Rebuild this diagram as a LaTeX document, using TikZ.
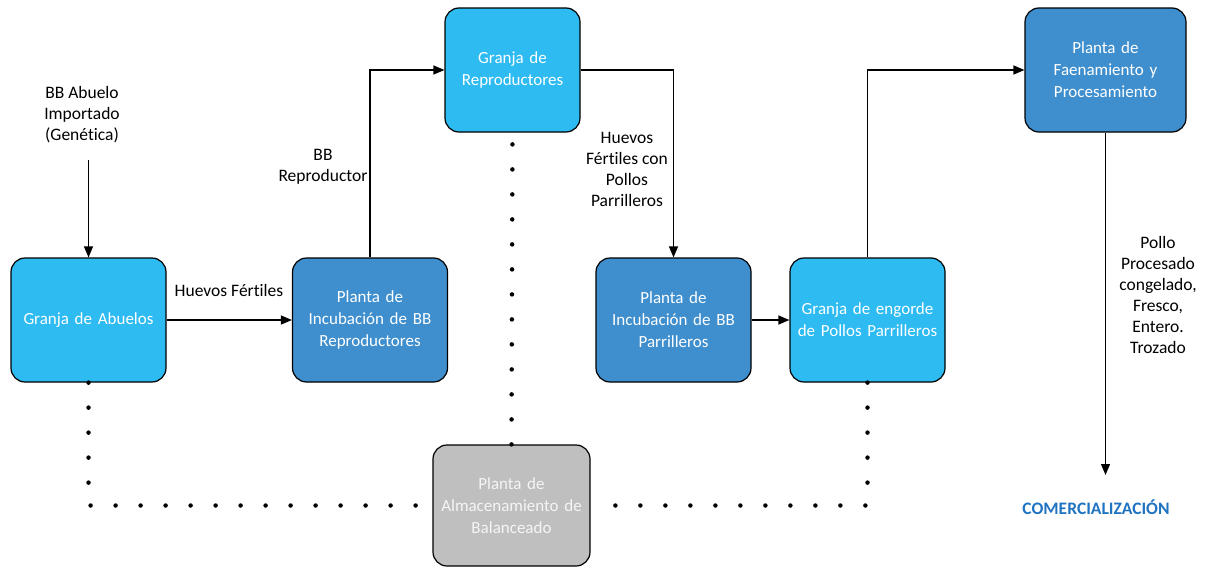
\documentclass[tikz,border=0pt]{standalone}
\usepackage{fontspec}
\setmainfont{Carlito}[Ligatures=NoCommon]
\usetikzlibrary{arrows.meta}
\definecolor{lightb}{HTML}{2DBBF2}
\definecolor{darkb}{HTML}{3F8FCE}
\definecolor{grayb}{HTML}{BFBFBF}
\definecolor{comc}{HTML}{1F73C1}
\begin{document}
\begin{tikzpicture}[x=1pt,y=-1pt,
  box/.style={draw=black, line width=1.2pt, rounded corners=14pt, minimum width=155pt, minimum height=124pt, text width=152pt, align=center, text=white, font=\fontsize{17}{22}\selectfont, inner sep=0pt},
  light/.style={box, fill=lightb},
  dark/.style={box, fill=darkb},
  grayn/.style={box, fill=grayb, text=white!92!gray},
  lbl/.style={align=center, font=\fontsize{17.5}{21}\selectfont, inner sep=0pt},
  arr/.style={line width=1.3pt, -{Triangle[length=11pt,width=9pt]}},
  dotline/.style={line width=4.5pt, line cap=round, dash pattern=on 0pt off 25pt}
]
\useasboundingbox (0,0) rectangle (1208,570);
% boxes
\node[light] (abu) at (88.5,320) {Granja de Abuelos};
\node[dark] (incr) at (370,320) {Planta de\\Incubación de BB\\Reproductores};
\node[light, minimum width=135pt, text width=132pt] (rep) at (512.5,70) {Granja de\\Reproductores};
\node[dark, minimum width=161pt, text width=158pt] (fae) at (1105.5,70) {Planta de\\Faenamiento y\\Procesamiento};
\node[dark] (incp) at (673.5,320) {Planta de\\Incubación de BB\\Parrilleros};
\node[light] (eng) at (867.5,320) {Granja de engorde\\de Pollos Parrilleros};
\node[grayn, minimum width=157pt, minimum height=121pt, text width=156pt] (bal) at (511.5,505.5) {Planta de\\Almacenamiento de\\Balanceado};
% labels
\node[lbl] (l1) at (82,115) {BB Abuelo\\Importado\\(Genética)};
\node[lbl] (l2) at (229,290) {Huevos Fértiles};
\node[lbl] (l3) at (323,167) {BB\\Reproductor};
\node[lbl] (l4) at (627,169) {Huevos\\Fértiles con\\Pollos\\Parrilleros};
\node[lbl] (l5) at (1158,295) {Pollo\\Procesado\\congelado,\\Fresco,\\Entero.\\Trozado};
\node[lbl, font=\fontsize{17.5}{21}\selectfont\bfseries, text=comc] (com) at (1096,507) {COMERCIALIZACIÓN};
\coordinate (s1) at (88.5,160);
\coordinate (e1) at (1105.5,475);
% arrows
\draw[arr] (s1) -- (abu.north);
\draw[arr] (abu.east) -- (incr.west);
\draw[arr] (incr.north) |- (rep.west);
\draw[arr] (rep.east) -| (incp.north);
\draw[arr] (incp.east) -- (eng.west);
\draw[arr] (eng.north) |- (fae.west);
\draw[arr] (fae.south) -- (e1);
% dotted connectors
\draw[dotline] (abu.south) |- (bal.west);
\draw[dotline] (eng.south) |- (bal.east);
\draw[dotline] (bal.north) -- (rep.south);
\end{tikzpicture}
\end{document}
